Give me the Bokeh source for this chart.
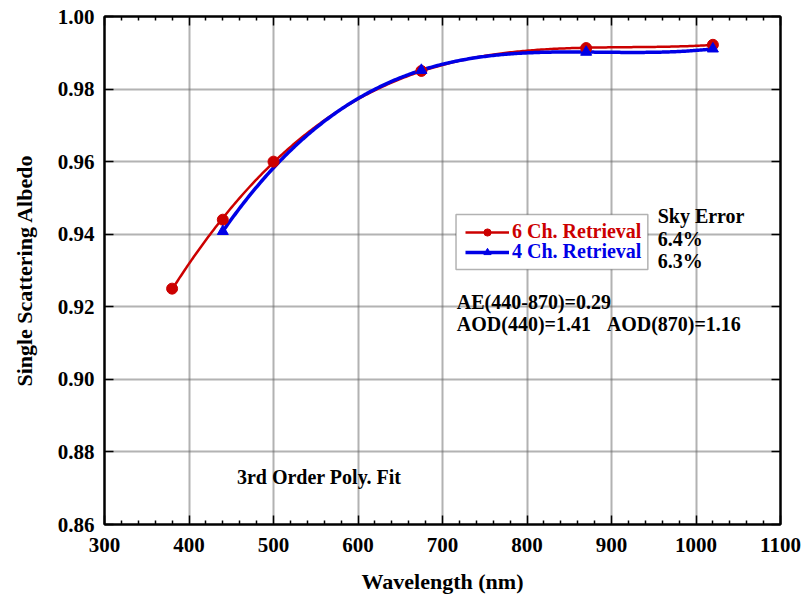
import numpy as np
from bokeh.plotting import figure
from bokeh.models import (Range1d, LinearAxis, FixedTicker, PrintfTickFormatter,
                          Legend, LegendItem, Label, BoxAnnotation)
from bokeh.embed import file_html
from bokeh.resources import INLINE

# ---- data ----
wl_6ch = [380, 440, 500, 675, 870, 1020]
ssa_6ch = [0.925, 0.944, 0.960, 0.985, 0.9913, 0.9922]
wl_4ch = [440, 675, 870, 1020]
ssa_4ch = [0.9408, 0.9852, 0.9902, 0.9911]
x_ticks = [300, 400, 500, 600, 700, 800, 900, 1000, 1100]
x_minor = [v for v in range(300, 1101, 20) if v % 100 != 0]
y_ticks = [0.86, 0.88, 0.90, 0.92, 0.94, 0.96, 0.98, 1.00]

RED = "#cc0000"
BLUE = "#0000e6"
FONT = "Liberation Serif"

# 3rd order polynomial fits of each retrieval
c6 = np.polyfit(wl_6ch, ssa_6ch, 3)
c4 = np.polyfit(wl_4ch, ssa_4ch, 3)
xs6 = np.linspace(min(wl_6ch), max(wl_6ch), 300)
xs4 = np.linspace(min(wl_4ch), max(wl_4ch), 300)
ys6 = np.polyval(c6, xs6)
ys4 = np.polyval(c4, xs4)

p = figure(width=805, height=596, x_range=Range1d(300, 1100), y_range=Range1d(0.86, 1.00),
           output_backend="svg", toolbar_location=None,
           min_border_left=104, min_border_right=25, min_border_top=16, min_border_bottom=71,
           x_axis_label="Wavelength (nm)", y_axis_label="Single Scattering Albedo")
p.outline_line_color = "black"
p.outline_line_width = 2
p.background_fill_color = "white"

xt = FixedTicker(ticks=x_ticks, minor_ticks=x_minor)
yt = FixedTicker(ticks=y_ticks, minor_ticks=[])

def style_axis(ax, labels=True):
    ax.axis_line_color = "black"
    ax.axis_line_width = 2
    ax.major_tick_line_color = "black"
    ax.major_tick_line_width = 1.5
    ax.minor_tick_line_color = "black"
    ax.minor_tick_line_width = 1.5
    ax.major_tick_in = 9
    ax.major_tick_out = 0
    ax.minor_tick_in = 4
    ax.minor_tick_out = 0
    if labels:
        ax.major_label_text_font = FONT
        ax.major_label_text_font_style = "bold"
        ax.major_label_text_font_size = "21px"
        ax.major_label_text_color = "black"
        ax.axis_label_text_font = FONT
        ax.axis_label_text_font_style = "bold"
        ax.axis_label_text_font_size = "22px"
        ax.axis_label_text_color = "black"
    else:
        ax.major_label_text_color = None
        ax.major_label_text_font_size = "1px"
        ax.major_label_standoff = 0

xa = p.xaxis[0]
ya = p.yaxis[0]
xa.ticker = xt
ya.ticker = yt
ya.formatter = PrintfTickFormatter(format="%.2f")
style_axis(xa)
style_axis(ya)
xa.major_label_standoff = 13
xa.axis_label_standoff = 14
ya.major_label_standoff = 10
ya.axis_label_standoff = 18

top = LinearAxis(ticker=xt)
style_axis(top, labels=False)
p.add_layout(top, "above")
right = LinearAxis(ticker=yt)
style_axis(right, labels=False)
p.add_layout(right, "right")

p.xgrid.ticker = xt
p.ygrid.ticker = yt
for g in (p.xgrid[0], p.ygrid[0]):
    g.grid_line_color = "#666666"
    g.grid_line_width = 2
    g.grid_line_dash = "1 1"

r_red_line = p.line(xs6, ys6, line_color=RED, line_width=2.5)
r_blue_line = p.line(xs4, ys4, line_color=BLUE, line_width=3.5)
r_red_pts = p.scatter(wl_6ch, ssa_6ch, marker="circle", size=11, fill_color=RED, line_color=RED)
r_blue_pts = p.scatter(wl_4ch, ssa_4ch, marker="triangle", size=11, fill_color=BLUE, line_color=BLUE)

# legend frame
p.add_layout(BoxAnnotation(left=716, right=943, top=0.9454, bottom=0.9303,
                           fill_color="white", fill_alpha=1.0,
                           line_color="black", line_width=1.5, level="annotation"))

def make_legend(label, rends, color, loc):
    lg = Legend(items=[LegendItem(label=label, renderers=rends)], location=loc,
                padding=0, margin=0, spacing=0, glyph_width=44, glyph_height=18,
                label_height=20, label_standoff=3,
                label_text_font=FONT, label_text_font_style="bold",
                label_text_font_size="20px", label_text_color=color,
                border_line_alpha=0, background_fill_alpha=0)
    p.add_layout(lg, "center")

make_legend("6 Ch. Retrieval", [r_red_line, r_red_pts], RED, (361, 281))
make_legend("4 Ch. Retrieval", [r_blue_line, r_blue_pts], BLUE, (361, 261))

def add_text(x, y, t):
    p.add_layout(Label(x=x, y=y, text=t, text_font=FONT, text_font_style="bold",
                       text_font_size="20px", text_color="black",
                       text_baseline="middle", text_align="left"))

add_text(954.6, 0.9451, "Sky Error")
add_text(954.6, 0.9388, "6.4%")
add_text(954.6, 0.9325, "6.3%")
add_text(716.9, 0.9212, "AE(440-870)=0.29")
add_text(716.9, 0.9152, "AOD(440)=1.41")
add_text(894.3, 0.9152, "AOD(870)=1.16")
add_text(456.7, 0.8732, "3rd Order Poly. Fit")

open("out.html", "w").write(file_html(p, INLINE))
